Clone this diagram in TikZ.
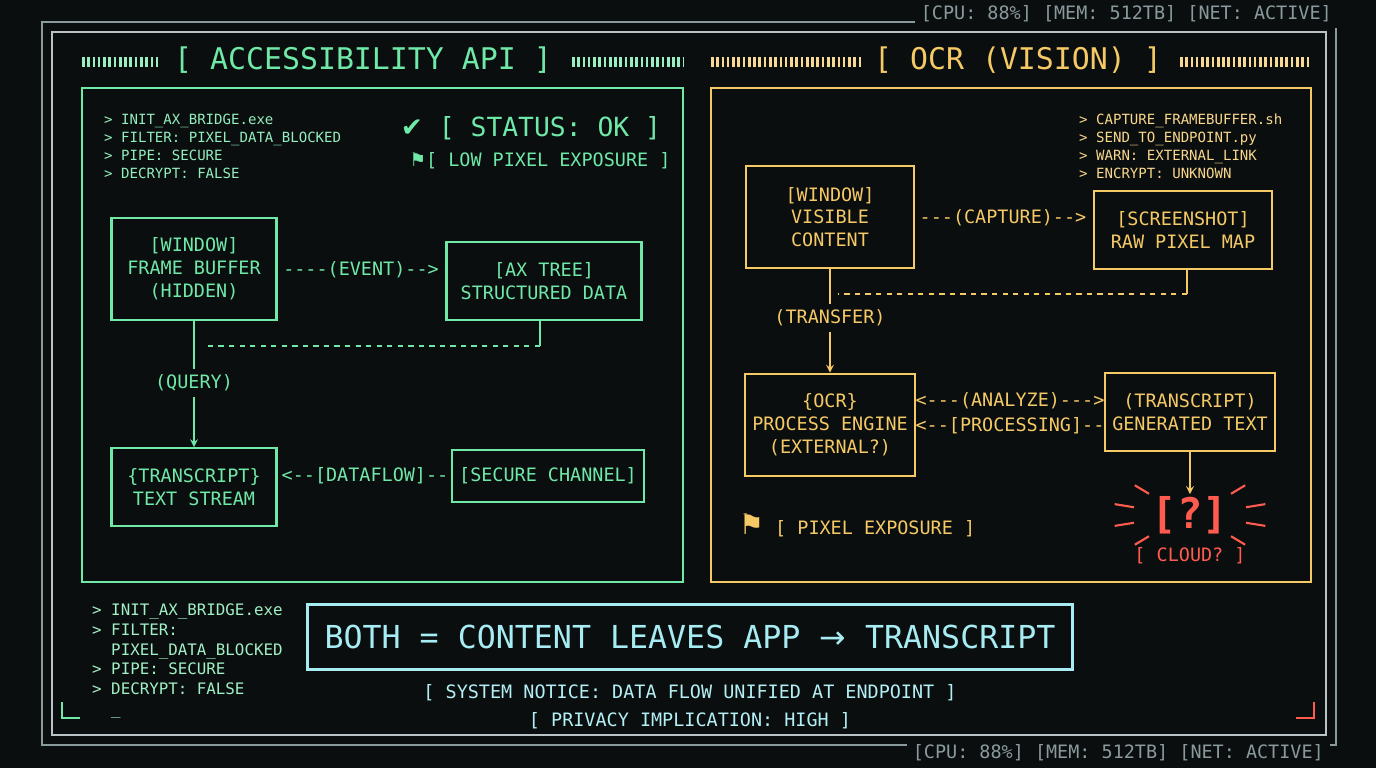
\documentclass[tikz,border=0pt]{standalone}
\usepackage{fontspec}
\setmainfont{DejaVu Sans Mono}[Ligatures=TeXOff]
\newfontfamily\symfont{DejaVu Sans}
\usetikzlibrary{positioning,calc}
\definecolor{bgc}{HTML}{0A0E0F}
\definecolor{grn}{HTML}{6FE8A8}
\definecolor{amb}{HTML}{F5C965}
\definecolor{alrt}{HTML}{FF5B4E}
\definecolor{cyn}{HTML}{A6ECF2}
\definecolor{frm}{HTML}{8A9A9C}
\tikzset{
  box/.style={draw, line width=1.2pt, align=center, font=\fontsize{10.5}{13}\selectfont, inner sep=4pt},
  lbl/.style={font=\fontsize{10.5}{13}\selectfont},
  code/.style={font=\fontsize{8}{10.2}\selectfont, align=left, anchor=north west},
  head/.style={font=\fontsize{17}{20}\selectfont},
  bar/.style={line width=6pt, dash pattern=on 1.5pt off 1.5pt},
}
\begin{document}
\begin{tikzpicture}[x=0.02cm,y=-0.02cm]
\useasboundingbox (0,0) rectangle (1376,768);
\fill[bgc] (0,0) rectangle (1376,768);
% outer frame
\draw[frm, line width=1pt] (42,22) rectangle (1336,745);
\draw[frm!60, line width=0.6pt] (52,32) rectangle (1326,735);
\node[frm, lbl, anchor=east, fill=bgc] (statT) at (1338,14) {[CPU: 88\%] [MEM: 512TB] [NET: ACTIVE]};
\node[frm, lbl, anchor=east, fill=bgc] (statB) at (1330,753) {[CPU: 88\%] [MEM: 512TB] [NET: ACTIVE]};

% left panel
\draw[grn, line width=1.2pt] (82,88) rectangle (683,582);
\node[grn, head] (hl) at (363,60) {[ ACCESSIBILITY API ]};
\draw[grn!70, bar] (82,62) -- (158,62);
\draw[grn!70, bar] (572,62) -- (683,62);
\node[grn!75, code] (cl) at (98,108) {> INIT\_AX\_BRIDGE.exe\\> FILTER: PIXEL\_DATA\_BLOCKED\\> PIPE: SECURE\\> DECRYPT: FALSE};
\node[grn, font=\fontsize{15}{18}\selectfont] (ok) at (531,128) {{\symfont ✔} [ STATUS: OK ]};
\node[grn, lbl] (low) at (540,161) {{\symfont ⚑}[ LOW PIXEL EXPOSURE ]};

\node[grn, box, minimum width=3.3cm, minimum height=2.05cm] (win) at (194,269) {[WINDOW]\\FRAME BUFFER\\(HIDDEN)};
\node[grn, box, minimum width=3.9cm, minimum height=1.55cm] (ax) at (544,281) {[AX TREE]\\STRUCTURED DATA};
\node[grn, lbl] (ev) at (361,270) {----(EVENT)-->};
\node[grn, box, minimum width=3.3cm, minimum height=1.55cm] (tr) at (194,487) {\{TRANSCRIPT\}\\TEXT STREAM};
\node[grn, box, minimum width=3.85cm, minimum height=1.05cm] (sec) at (548,476) {[SECURE CHANNEL]};
\node[grn, lbl] (df) at (365,476) {<--[DATAFLOW]--};
\node[grn, lbl] (qy) at (194,383) {(QUERY)};
\draw[grn, line width=1pt] (ax.south -| 540,0) -- ++(0,25) coordinate (axb);
\draw[grn, line width=1pt, dashed] (axb) -- (axb -| 203,0);
\draw[grn, line width=1pt] (win.south) -- (qy.north);
\draw[grn, line width=1pt, -stealth] (qy.south) -- (tr.north);

% right panel
\draw[amb, line width=1.2pt] (711,88) rectangle (1311,582);
\node[amb, head] (hr) at (1018,60) {[ OCR (VISION) ]};
\draw[amb!70, bar] (711,62) -- (862,62);
\draw[amb!70, bar] (1180,62) -- (1311,62);
\node[amb!75, code] (cr) at (1073,108) {> CAPTURE\_FRAMEBUFFER.sh\\> SEND\_TO\_ENDPOINT.py\\> WARN: EXTERNAL\_LINK\\> ENCRYPT: UNKNOWN};

\node[amb, box, minimum width=3.35cm, minimum height=2.05cm] (rwin) at (830,217) {[WINDOW]\\VISIBLE\\CONTENT};
\node[amb, lbl] (cap) at (1003,218) {---(CAPTURE)-->};
\node[amb, box, minimum width=3.55cm, minimum height=1.55cm] (shot) at (1183,230) {[SCREENSHOT]\\RAW PIXEL MAP};
\node[amb, lbl] (tf) at (830,318) {(TRANSFER)};
\draw[amb, line width=1pt] (shot.south -| 1187,0) -- ++(0,24) coordinate (shb);
\draw[amb, line width=1pt, dashed] (shb) -- (shb -| 838,0);
\draw[amb, line width=1pt] (rwin.south) -- (tf.north);
\node[amb, box, minimum width=3.35cm, minimum height=2.05cm] (ocr) at (830,425) {\{OCR\}\\PROCESS ENGINE\\(EXTERNAL?)};
\draw[amb, line width=1pt, -stealth] (tf.south) -- (ocr.north);
\node[amb, box, minimum width=3.35cm, minimum height=1.55cm] (gen) at (1190,412) {(TRANSCRIPT)\\GENERATED TEXT};
\node[amb, lbl] (an) at (1010,401) {<---(ANALYZE)--->};
\node[amb, lbl] (pr) at (1010,426) {<--[PROCESSING]--};
\node[alrt, font=\bfseries\fontsize{24}{28}\selectfont, inner sep=1pt] (q) at (1190,515) {[?]};
\draw[amb, line width=1pt, -stealth] (gen.south) -- (q.north);
\foreach \a in {15,165,195,345,45,135,225,315}
  \draw[alrt, line width=1.2pt] ($(q)+(\a:58 and 30)$) -- ($(q)+(\a:78 and 42)$);
\node[alrt, lbl] (cl2) at (1190,556) {[ CLOUD? ]};
\node[amb, lbl] (px) at (857,525) {{\symfont\fontsize{16}{16}\selectfont ⚑} [ PIXEL EXPOSURE ]};

% bottom
\node[grn!65, code, font=\fontsize{9}{11.2}\selectfont] (cb) at (86,598) {> INIT\_AX\_BRIDGE.exe\\> FILTER:\\\ \ PIXEL\_DATA\_BLOCKED\\> PIPE: SECURE\\> DECRYPT: FALSE\\\ \ \_};
\node[cyn, draw, line width=1.5pt, minimum width=15.3cm, minimum height=1.3cm, font=\fontsize{18}{20}\selectfont] (both) at (690,637) {BOTH = CONTENT LEAVES APP {\symfont →} TRANSCRIPT};
\node[cyn!85, lbl, below=4pt of both] (n1) {[ SYSTEM NOTICE: DATA FLOW UNIFIED AT ENDPOINT ]};
\node[cyn!85, lbl, below=0pt of n1] (n2) {[ PRIVACY IMPLICATION: HIGH ]};
\draw[grn, line width=1.5pt] (62,702) -- (62,718) -- (80,718);
\draw[alrt, line width=1.5pt] (1296,718) -- (1314,718) -- (1314,702);
\end{tikzpicture}
\end{document}
